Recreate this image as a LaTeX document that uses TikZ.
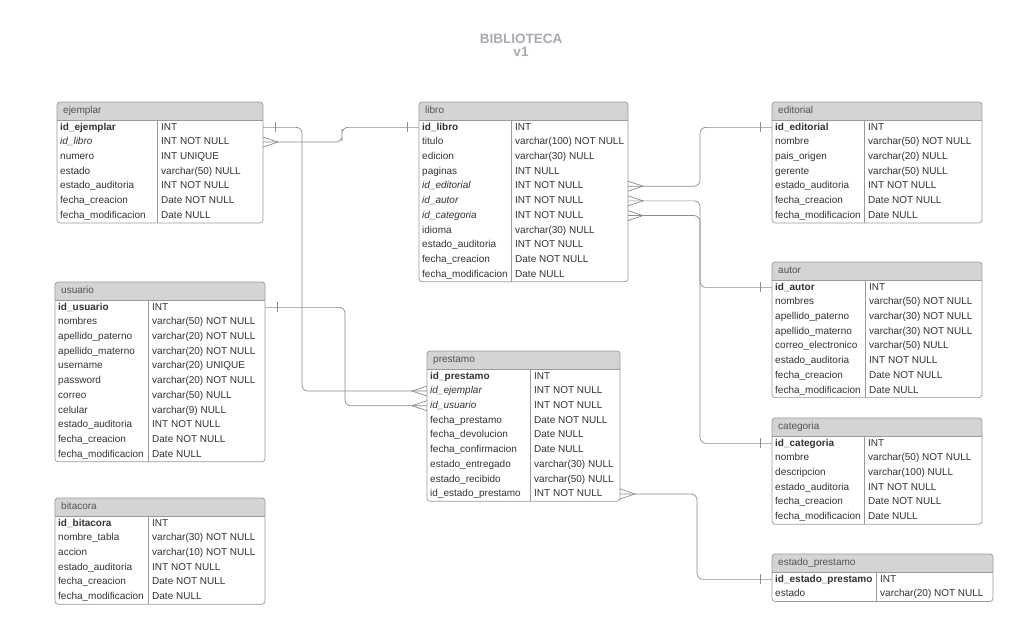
\documentclass[tikz,border=0pt]{standalone}
\usepackage{fontspec}
\setmainfont{Liberation Sans}
\usetikzlibrary{positioning}
\definecolor{cabgris}{HTML}{D4D4D4}
\definecolor{bordegris}{HTML}{9A9A9A}
\definecolor{lineagris}{HTML}{8C8C8C}
\definecolor{textogris}{HTML}{333333}
\definecolor{titulogris}{HTML}{A7ABB6}
\newcommand{\campofont}{\fontsize{10}{12}\selectfont}
\tikzset{
  caja/.style={draw=bordegris,line width=0.7pt},
  campo/.style={anchor=west,inner sep=0pt,text height=7.5pt,text depth=2pt,font=\campofont,text=textogris},
  cabtexto/.style={campo,text=textogris!85},
  rel/.style={draw=lineagris,line width=0.7pt},
  titulo/.style={inner sep=0pt,font=\fontsize{13.5}{16}\selectfont\bfseries,text=titulogris}
}
% #1 nombre, #2 titulo, #3 x, #4 y, #5 ancho, #6 columna, #7 filas, #8 campos
\newcommand{\tabla}[8]{
  \begin{scope}
    \clip[rounded corners=3pt] (#3,#4) rectangle ++(#5,-18-14.7*#7);
    \fill[cabgris] (#3,#4) rectangle ++(#5,-18);
  \end{scope}
  \draw[caja,rounded corners=3pt] (#3,#4) rectangle ++(#5,-18-14.7*#7);
  \draw[caja] (#3,#4-18) -- ++(#5,0);
  \draw[caja] (#3+#6,#4-18) -- ++(0,-14.7*#7);
  \node[cabtexto] (#1) at (#3+6,#4-9) {#2};
  \foreach \campo/\tipo [count=\i] in {#8} {
    \coordinate (#1-\i-w) at (#3,#4-10.65-14.7*\i);
    \coordinate (#1-\i-e) at (#3+#5,#4-10.65-14.7*\i);
    \node[campo] (#1-\i) at (#3+3,#4-10.65-14.7*\i) {\campo};
    \node[campo] (#1-\i-t) at (#3+#6+4,#4-10.65-14.7*\i) {\tipo};
  }
}
\newcommand{\muchos}[2]{\draw[rel] ([yshift=5pt]#1) -- ([xshift=#2*15pt]#1) -- ([yshift=-5pt]#1);}
\newcommand{\uno}[2]{\draw[rel] ([xshift=#2*12pt,yshift=5pt]#1) -- ([xshift=#2*12pt,yshift=-5pt]#1);}

\begin{document}
\begin{tikzpicture}[x=1pt,y=1pt]
  \fill[white] (0,0) rectangle (1020,-640);
  \useasboundingbox (0,0) rectangle (1020,-640);
  \node[titulo] (titulo) at (521,-39) {BIBLIOTECA};
  \node[titulo,below=3pt of titulo] (version) {v1};

  \tabla{ejemplar}{ejemplar}{57}{-102}{206}{100}{7}{\textbf{id\_ejemplar}/INT, \textit{id\_libro}/INT NOT NULL,
    numero/INT UNIQUE, estado/varchar(50) NULL, estado\_auditoria/INT NOT NULL,
    fecha\_creacion/Date NOT NULL, fecha\_modificacion/Date NULL}
  \tabla{libro}{libro}{419}{-102}{209}{92}{11}{\textbf{id\_libro}/INT, titulo/varchar(100) NOT NULL,
    edicion/varchar(30) NULL, paginas/INT NULL, \textit{id\_editorial}/INT NOT NULL,
    \textit{id\_autor}/INT NOT NULL, \textit{id\_categoria}/INT NOT NULL, idioma/varchar(30) NULL,
    estado\_auditoria/INT NOT NULL, fecha\_creacion/Date NOT NULL, fecha\_modificacion/Date NULL}
  \tabla{editorial}{editorial}{772}{-102}{210}{92}{7}{\textbf{id\_editorial}/INT, nombre/varchar(50) NOT NULL,
    pais\_origen/varchar(20) NULL, gerente/varchar(50) NULL, estado\_auditoria/INT NOT NULL,
    fecha\_creacion/Date NOT NULL, fecha\_modificacion/Date NULL}
  \tabla{usuario}{usuario}{55}{-282}{210}{93}{11}{\textbf{id\_usuario}/INT, nombres/varchar(50) NOT NULL,
    apellido\_paterno/varchar(20) NOT NULL, apellido\_materno/varchar(20) NOT NULL,
    username/varchar(20) UNIQUE, password/varchar(20) NOT NULL, correo/varchar(50) NULL,
    celular/varchar(9) NULL, estado\_auditoria/INT NOT NULL, fecha\_creacion/Date NOT NULL,
    fecha\_modificacion/Date NULL}
  \tabla{prestamo}{prestamo}{427}{-351}{193}{103}{9}{\textbf{id\_prestamo}/INT, \textit{id\_ejemplar}/INT NOT NULL,
    \textit{id\_usuario}/INT NOT NULL, fecha\_prestamo/Date NOT NULL, fecha\_devolucion/Date NULL,
    fecha\_confirmacion/Date NULL, estado\_entregado/varchar(30) NULL,
    estado\_recibido/varchar(50) NULL, id\_estado\_prestamo/INT NOT NULL}
  \tabla{autor}{autor}{772}{-262}{210}{93}{8}{\textbf{id\_autor}/INT, nombres/varchar(50) NOT NULL,
    apellido\_paterno/varchar(30) NOT NULL, apellido\_materno/varchar(30) NOT NULL,
    correo\_electronico/varchar(50) NULL, estado\_auditoria/INT NOT NULL,
    fecha\_creacion/Date NOT NULL, fecha\_modificacion/Date NULL}
  \tabla{categoria}{categoria}{772}{-418}{210}{92}{6}{\textbf{id\_categoria}/INT, nombre/varchar(50) NOT NULL,
    descripcion/varchar(100) NULL, estado\_auditoria/INT NOT NULL, fecha\_creacion/Date NOT NULL,
    fecha\_modificacion/Date NULL}
  \tabla{bitacora}{bitacora}{55}{-498}{210}{93}{6}{\textbf{id\_bitacora}/INT, nombre\_tabla/varchar(30) NOT NULL,
    accion/varchar(10) NOT NULL, estado\_auditoria/INT NOT NULL, fecha\_creacion/Date NOT NULL,
    fecha\_modificacion/Date NULL}
  \tabla{estadoprestamo}{estado\_prestamo}{772}{-554}{221}{104}{2}{\textbf{id\_estado\_prestamo}/INT,
    estado/varchar(20) NOT NULL}

  % relaciones
  \coordinate (v-ejemplar) at (302,-250); \coordinate (v-libro) at (342,-135);
  \coordinate (v-usuario) at (345,-350); \coordinate (v-editorial) at (700,-160);
  \coordinate (v-autor) at (700,-250); \coordinate (v-categoria) at (700,-330);
  \coordinate (v-estado) at (697,-530);
  \draw[rel,rounded corners=6pt] (ejemplar-1-e) -| (v-ejemplar) |- (prestamo-2-w);
  \draw[rel,rounded corners=6pt] (ejemplar-2-e) -| (v-libro) |- (libro-1-w);
  \draw[rel,rounded corners=6pt] (usuario-1-e) -| (v-usuario) |- (prestamo-3-w);
  \draw[rel,rounded corners=6pt] (libro-5-e) -| (v-editorial) |- (editorial-1-w);
  \draw[rel,rounded corners=6pt] (libro-6-e) -| (v-autor) |- (autor-1-w);
  \draw[rel,rounded corners=6pt] (libro-7-e) -| (v-categoria) |- (categoria-1-w);
  \draw[rel,rounded corners=6pt] (prestamo-9-e) -| (v-estado) |- (estadoprestamo-1-w);
  \uno{ejemplar-1-e}{1} \muchos{prestamo-2-w}{-1}
  \muchos{ejemplar-2-e}{1} \uno{libro-1-w}{-1}
  \uno{usuario-1-e}{1} \muchos{prestamo-3-w}{-1}
  \muchos{libro-5-e}{1} \uno{editorial-1-w}{-1}
  \muchos{libro-6-e}{1} \uno{autor-1-w}{-1}
  \muchos{libro-7-e}{1} \uno{categoria-1-w}{-1}
  \muchos{prestamo-9-e}{1} \uno{estadoprestamo-1-w}{-1}
\end{tikzpicture}
\end{document}
